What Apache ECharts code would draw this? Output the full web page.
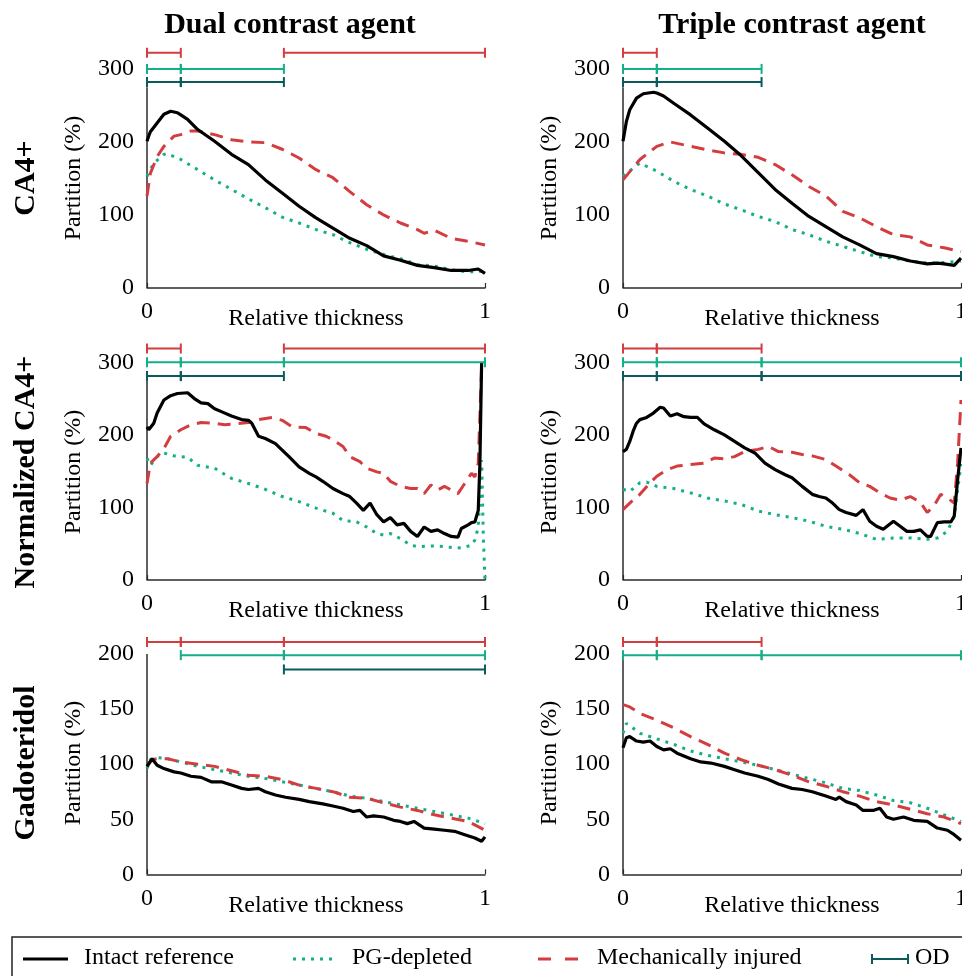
<!DOCTYPE html>
<html>
<head>
<meta charset="utf-8">
<script src="https://cdn.jsdelivr.net/npm/echarts@6.0.0/dist/echarts.min.js"></script>
<style>html,body{margin:0;padding:0;background:#fff;}#chart{width:962px;height:976px;}</style>
</head>
<body>
<div id="chart"></div>
<script>
// ---------- DATA ----------
const columnTitles = ['Dual contrast agent', 'Triple contrast agent'];
const rowTitles = ['CA4+', 'Normalized CA4+', 'Gadoteridol'];
const seriesNames = ['Intact reference', 'PG-depleted', 'Mechanically injured', 'OD'];
const xTickLabels = ['0', '1'];

// CA4+ , dual
const ca4DualIntact = [[0,201],[0.005,208],[0.01,214],[0.03,226],[0.05,238],[0.07,242],[0.09,240],[0.1,237],[0.12,231],[0.15,217],[0.2,201],[0.25,183],[0.3,169],[0.35,148],[0.4,130],[0.45,112],[0.5,96],[0.55,82],[0.6,68],[0.65,58],[0.7,44],[0.75,38],[0.8,31],[0.85,28],[0.9,24],[0.95,24],[0.98,26],[1,20]];
const ca4DualPG = [[0,153],[0.02,171],[0.05,183],[0.06,184],[0.1,176],[0.15,162],[0.2,148],[0.25,135],[0.3,122],[0.35,110],[0.4,97],[0.45,89],[0.5,80],[0.55,73],[0.6,62],[0.65,53],[0.7,46],[0.75,40],[0.8,32],[0.85,30],[0.9,25],[0.95,22],[1,23]];
const ca4DualMI = [[0,126],[0.01,157],[0.03,180],[0.05,194],[0.08,208],[0.1,210],[0.13,215],[0.15,215],[0.2,210],[0.25,203],[0.3,200],[0.35,199],[0.4,190],[0.45,178],[0.5,162],[0.55,151],[0.6,132],[0.65,114],[0.7,100],[0.75,89],[0.8,80],[0.82,75],[0.85,79],[0.9,68],[0.95,64],[1,59]];
// CA4+ , triple
const ca4TripleIntact = [[0,201],[0.01,228],[0.02,244],[0.04,260],[0.06,266],[0.09,268],[0.1,267],[0.12,263],[0.15,253],[0.2,237],[0.25,219],[0.3,201],[0.35,181],[0.4,158],[0.45,135],[0.5,116],[0.55,98],[0.6,84],[0.65,70],[0.7,59],[0.75,47],[0.8,43],[0.85,37],[0.9,33],[0.93,34],[0.95,33],[0.98,31],[1,41]];
const ca4TriplePG = [[0,153],[0.03,164],[0.05,171],[0.1,160],[0.15,146],[0.2,135],[0.25,126],[0.3,115],[0.35,107],[0.4,98],[0.45,91],[0.5,80],[0.55,73],[0.6,64],[0.65,57],[0.7,50],[0.75,43],[0.8,41],[0.85,37],[0.9,34],[0.95,35],[1,37]];
const ca4TripleMI = [[0,148],[0.05,176],[0.1,194],[0.14,200],[0.2,194],[0.25,189],[0.3,185],[0.35,183],[0.4,179],[0.45,169],[0.5,155],[0.55,139],[0.6,126],[0.65,105],[0.7,96],[0.75,84],[0.8,73],[0.85,70],[0.9,59],[0.95,55],[1,50]];
// Normalized CA4+ , dual
const normDualIntact = [[0,211],[0.005,207],[0.01,209],[0.02,216],[0.03,230],[0.05,248],[0.07,254],[0.09,257],[0.12,258],[0.14,250],[0.16,244],[0.18,243],[0.2,236],[0.22,232],[0.25,226],[0.28,221],[0.3,220],[0.31,216],[0.33,198],[0.35,195],[0.38,188],[0.4,179],[0.42,170],[0.45,156],[0.48,147],[0.5,142],[0.52,136],[0.55,126],[0.58,119],[0.6,115],[0.62,106],[0.64,96],[0.66,106],[0.68,90],[0.7,80],[0.72,86],[0.74,76],[0.76,78],[0.78,67],[0.8,60],[0.82,73],[0.84,67],[0.86,69],[0.88,64],[0.9,60],[0.92,59],[0.93,71],[0.95,76],[0.96,79],[0.97,80],[0.98,96],[0.985,161],[0.99,300]];
const normDualPG = [[0,168],[0.01,158],[0.03,170],[0.05,175],[0.08,171],[0.12,169],[0.15,158],[0.2,154],[0.25,140],[0.3,133],[0.35,125],[0.4,115],[0.45,108],[0.5,99],[0.55,92],[0.58,82],[0.62,80],[0.65,73],[0.68,64],[0.7,62],[0.72,64],[0.75,57],[0.78,48],[0.8,46],[0.85,47],[0.9,45],[0.93,44],[0.96,48],[0.97,55],[0.98,73],[0.985,115],[0.99,165],[0.995,60],[1,0]];
const normDualMI = [[0,133],[0.01,161],[0.03,170],[0.05,181],[0.07,198],[0.1,207],[0.13,214],[0.16,217],[0.2,216],[0.23,214],[0.26,215],[0.3,217],[0.33,221],[0.37,224],[0.4,220],[0.43,211],[0.47,210],[0.5,202],[0.53,198],[0.55,193],[0.58,184],[0.6,170],[0.63,163],[0.65,154],[0.68,149],[0.7,147],[0.72,136],[0.75,129],[0.78,126],[0.8,126],[0.82,119],[0.84,131],[0.86,124],[0.88,129],[0.9,124],[0.92,119],[0.94,133],[0.96,147],[0.97,142],[0.98,161],[0.99,294]];
// Normalized CA4+ , triple
const normTripleIntact = [[0,177],[0.01,180],[0.02,191],[0.03,205],[0.04,216],[0.05,221],[0.07,224],[0.09,230],[0.11,238],[0.12,237],[0.14,226],[0.16,229],[0.18,225],[0.2,224],[0.22,224],[0.24,215],[0.27,207],[0.3,200],[0.33,191],[0.36,182],[0.39,175],[0.42,161],[0.45,152],[0.48,145],[0.5,141],[0.53,129],[0.56,118],[0.58,115],[0.6,113],[0.62,106],[0.64,97],[0.66,93],[0.69,89],[0.71,97],[0.73,81],[0.75,74],[0.77,70],[0.8,81],[0.82,74],[0.84,67],[0.86,67],[0.88,69],[0.9,60],[0.91,60],[0.93,79],[0.95,80],[0.97,80],[0.98,88],[0.99,138],[1,182]];
const normTriplePG = [[0,125],[0.02,122],[0.05,134],[0.07,135],[0.1,129],[0.15,126],[0.2,120],[0.25,113],[0.3,109],[0.35,104],[0.4,95],[0.45,90],[0.5,86],[0.55,81],[0.6,74],[0.65,70],[0.7,64],[0.75,56],[0.8,58],[0.85,58],[0.9,56],[0.93,58],[0.96,67],[0.98,88],[1,160]];
const normTripleMI = [[0,97],[0.02,106],[0.05,118],[0.08,134],[0.1,143],[0.13,152],[0.16,157],[0.2,159],[0.24,161],[0.27,168],[0.3,167],[0.33,170],[0.36,177],[0.4,180],[0.43,184],[0.46,177],[0.5,176],[0.53,173],[0.56,171],[0.6,166],[0.63,157],[0.67,145],[0.7,134],[0.73,129],[0.76,120],[0.79,113],[0.82,110],[0.85,115],[0.88,107],[0.9,93],[0.92,102],[0.94,118],[0.96,113],[0.98,106],[0.99,161],[1,248]];
// Gadoteridol , dual
const gadoDualIntact = [[0,98],[0.015,105],[0.02,104],[0.03,99],[0.05,96],[0.08,93],[0.1,92],[0.13,89],[0.16,88],[0.19,84],[0.22,84],[0.25,81],[0.28,78],[0.3,77],[0.33,78],[0.35,75],[0.38,72],[0.41,70],[0.45,68],[0.48,66],[0.52,64],[0.55,62],[0.58,60],[0.61,57],[0.63,58],[0.65,52],[0.67,53],[0.7,52],[0.73,49],[0.75,48],[0.77,46],[0.79,48],[0.82,42],[0.85,41],[0.88,40],[0.91,39],[0.94,36],[0.97,33],[0.99,30],[1,34]];
const gadoDualPG = [[0,96],[0.01,104],[0.03,106],[0.06,105],[0.1,102],[0.15,98],[0.2,95],[0.25,92],[0.3,89],[0.35,87],[0.4,84],[0.45,81],[0.5,78],[0.55,75],[0.6,71],[0.65,69],[0.7,66],[0.75,63],[0.8,60],[0.85,57],[0.9,54],[0.95,51],[1,46]];
const gadoDualMI = [[0,98],[0.015,104],[0.03,105],[0.06,105],[0.1,102],[0.15,100],[0.2,98],[0.25,94],[0.3,90],[0.35,89],[0.4,86],[0.45,81],[0.5,78],[0.55,75],[0.6,70],[0.65,69],[0.7,65],[0.75,61],[0.8,58],[0.85,54],[0.9,51],[0.95,48],[1,40]];
// Gadoteridol , triple
const gadoTripleIntact = [[0,115],[0.01,124],[0.02,125],[0.04,121],[0.06,120],[0.08,121],[0.1,116],[0.12,113],[0.14,114],[0.16,110],[0.2,105],[0.23,102],[0.26,101],[0.3,98],[0.33,95],[0.36,92],[0.4,89],[0.43,86],[0.46,82],[0.5,78],[0.53,77],[0.56,75],[0.6,71],[0.63,68],[0.64,70],[0.66,66],[0.69,63],[0.71,58],[0.74,58],[0.76,60],[0.78,52],[0.8,50],[0.83,52],[0.86,49],[0.9,48],[0.93,42],[0.96,40],[0.98,36],[1,31]];
const gadoTriplePG = [[0,128],[0.01,137],[0.02,135],[0.05,128],[0.1,123],[0.15,118],[0.2,112],[0.25,108],[0.3,105],[0.35,102],[0.4,99],[0.45,95],[0.5,91],[0.55,87],[0.6,83],[0.65,78],[0.7,76],[0.75,72],[0.8,67],[0.85,65],[0.9,60],[0.95,54],[1,48]];
const gadoTripleMI = [[0,154],[0.02,152],[0.05,146],[0.1,140],[0.15,133],[0.2,125],[0.25,118],[0.3,110],[0.35,104],[0.4,99],[0.45,95],[0.5,90],[0.55,84],[0.6,80],[0.65,75],[0.7,71],[0.75,66],[0.8,63],[0.85,59],[0.9,55],[0.95,52],[1,46]];

// Significance bars: [from, to, level]
const ca4DualRed = [[0,0.1,322],[0.405,1,322]];
const ca4DualGreen = [[0,0.1,300],[0.1,0.405,300]];
const ca4DualDark = [[0,0.1,282],[0.1,0.405,282]];
const ca4TripleRed = [[0,0.1,322]];
const ca4TripleGreen = [[0,0.1,300],[0.1,0.41,300]];
const ca4TripleDark = [[0,0.1,282],[0.1,0.41,282]];
const normDualRed = [[0,0.1,319],[0.405,1,319]];
const normDualGreen = [[0,0.1,300],[0.1,0.405,300],[0.405,1,300]];
const normDualDark = [[0,0.1,281],[0.1,0.405,281]];
const normTripleRed = [[0,0.1,319],[0.1,0.41,319]];
const normTripleGreen = [[0,0.1,300],[0.1,0.41,300],[0.41,1,300]];
const normTripleDark = [[0,0.1,281],[0.1,0.41,281],[0.41,1,281]];
const gadoDualRed = [[0,0.1,211],[0.1,0.405,211],[0.405,1,211]];
const gadoDualGreen = [[0.1,0.405,199],[0.405,1,199]];
const gadoDualDark = [[0.405,1,186]];
const gadoTripleRed = [[0,0.1,211],[0.1,0.41,211]];
const gadoTripleGreen = [[0,0.1,199],[0.1,0.41,199],[0.41,1,199]];
const gadoTripleDark = [];

// axis ranges per row: [max, tick interval, axis line top]
const rowYMax = [330, 330, 220];
const rowYInterval = [100, 100, 50];
const rowAxisTop = [275, 275, 200];

// ---------- STYLE / LAYOUT ----------
const FONT = '"Liberation Serif", "Times New Roman", serif';
const C_BLACK = '#000000', C_GREEN = '#14ae88', C_RED = '#d33d40', C_DARK = '#0b5a5c', C_AXIS = '#2b2b2b';
const colLeft = [147, 623];
const rowGrid = [{top:47, height:241}, {top:340.5, height:239.5}, {top:632, height:242.3}];
const plotW = 338;

const panels = [
  {r:0,c:0, intact:ca4DualIntact, pg:ca4DualPG, mi:ca4DualMI, red:ca4DualRed, green:ca4DualGreen, dark:ca4DualDark},
  {r:0,c:1, intact:ca4TripleIntact, pg:ca4TriplePG, mi:ca4TripleMI, red:ca4TripleRed, green:ca4TripleGreen, dark:ca4TripleDark},
  {r:1,c:0, intact:normDualIntact, pg:normDualPG, mi:normDualMI, red:normDualRed, green:normDualGreen, dark:normDualDark},
  {r:1,c:1, intact:normTripleIntact, pg:normTriplePG, mi:normTripleMI, red:normTripleRed, green:normTripleGreen, dark:normTripleDark},
  {r:2,c:0, intact:gadoDualIntact, pg:gadoDualPG, mi:gadoDualMI, red:gadoDualRed, green:gadoDualGreen, dark:gadoDualDark},
  {r:2,c:1, intact:gadoTripleIntact, pg:gadoTriplePG, mi:gadoTripleMI, red:gadoTripleRed, green:gadoTripleGreen, dark:gadoTripleDark}
];

const grid = [], xAxis = [], yAxis = [], series = [];

function barSeries(i, data, color) {
  return {
    type: 'custom', xAxisIndex: i, yAxisIndex: i, data: data, silent: true, clip: false, z: 5,
    encode: {x: [0, 1], y: 2},
    renderItem: function (params, api) {
      const a = api.coord([api.value(0), api.value(2)]);
      const b = api.coord([api.value(1), api.value(2)]);
      const h = 5;
      const st = {stroke: color, lineWidth: 2};
      return {type: 'group', children: [
        {type: 'line', shape: {x1: a[0], y1: a[1], x2: b[0], y2: b[1]}, style: st},
        {type: 'line', shape: {x1: a[0], y1: a[1] - h, x2: a[0], y2: a[1] + h}, style: st},
        {type: 'line', shape: {x1: b[0], y1: b[1] - h, x2: b[0], y2: b[1] + h}, style: st}
      ]};
    }
  };
}

panels.forEach(function (p, i) {
  const yMax = rowYMax[p.r], yInt = rowYInterval[p.r];
  grid.push({left: colLeft[p.c], top: rowGrid[p.r].top, width: plotW, height: rowGrid[p.r].height,
    containLabel: false, outerBoundsMode: 'none'});
  xAxis.push({
    gridIndex: i, type: 'value', min: 0, max: 1, interval: 1,
    axisLine: {show: true, lineStyle: {color: C_AXIS, width: 1.5}},
    axisTick: {show: true, inside: true, length: 5, lineStyle: {color: C_AXIS, width: 1.2}},
    splitLine: {show: false},
    axisLabel: {fontFamily: FONT, fontSize: 24, color: '#000', margin: 12,
      formatter: function (v) { return v === 0 ? xTickLabels[0] : (v === 1 ? xTickLabels[1] : ''); }},
    name: 'Relative thickness', nameLocation: 'middle', nameGap: 19, nameMoveOverlap: false,
    nameTextStyle: {fontFamily: FONT, fontSize: 24, color: '#000', verticalAlign: 'top'}
  });
  yAxis.push({
    gridIndex: i, type: 'value', min: 0, max: yMax, interval: yInt,
    axisLine: {show: false}, axisTick: {show: false}, splitLine: {show: false},
    axisLabel: {fontFamily: FONT, fontSize: 24, color: '#000', margin: 13,
      formatter: function (v) { return (v % yInt === 0 && v <= 300) ? String(v) : ''; }}
  });
  // y-axis line
  series.push({type: 'line', xAxisIndex: i, yAxisIndex: i, data: [[0, 0], [0, rowAxisTop[p.r]]],
    symbol: 'none', silent: true, lineStyle: {color: C_AXIS, width: 1.5}, z: 1});
  series.push({name: seriesNames[1], type: 'line', xAxisIndex: i, yAxisIndex: i, data: p.pg, symbol: 'none', silent: true,
    lineStyle: {color: C_GREEN, width: 3, type: [3, 6], cap: 'butt'}, z: 2});
  series.push({name: seriesNames[2], type: 'line', xAxisIndex: i, yAxisIndex: i, data: p.mi, symbol: 'none', silent: true,
    lineStyle: {color: C_RED, width: 3, type: [13, 8], cap: 'butt'}, z: 3});
  series.push({name: seriesNames[0], type: 'line', xAxisIndex: i, yAxisIndex: i, data: p.intact, symbol: 'none', silent: true,
    lineStyle: {color: C_BLACK, width: 3.2}, z: 4});
  series.push(barSeries(i, p.red, C_RED));
  series.push(barSeries(i, p.green, C_GREEN));
  series.push(barSeries(i, p.dark, C_DARK));
});

// ---------- TEXT / LEGEND GRAPHICS ----------
const graphic = [];
const titleX = [290, 792];
columnTitles.forEach(function (t, c) {
  graphic.push({type: 'text', x: titleX[c], y: 25, style: {text: t, font: 'bold 30px ' + FONT, fill: '#000', textAlign: 'center', textVerticalAlign: 'middle'}});
});
const rowCenterY = [178, 472, 763];
rowTitles.forEach(function (t, r) {
  graphic.push({type: 'text', x: 26, y: rowCenterY[r], rotation: Math.PI / 2,
    style: {text: t, font: 'bold 30px ' + FONT, fill: '#000', textAlign: 'center', textVerticalAlign: 'middle'}});
  [0, 1].forEach(function (c) {
    graphic.push({type: 'text', x: colLeft[c] - 73, y: rowCenterY[r], rotation: Math.PI / 2,
      style: {text: 'Partition (%)', font: '24px ' + FONT, fill: '#000', textAlign: 'center', textVerticalAlign: 'middle'}});
  });
});
// legend
const LY = 959;
graphic.push({type: 'rect', shape: {x: 12, y: 937, width: 1000, height: 80}, style: {fill: 'none', stroke: '#222', lineWidth: 1.5}});
graphic.push({type: 'line', shape: {x1: 23, y1: LY, x2: 68, y2: LY}, style: {stroke: C_BLACK, lineWidth: 3}});
graphic.push({type: 'text', x: 84, y: LY - 1, style: {text: seriesNames[0], font: '24px ' + FONT, fill: '#000', textAlign: 'left', textVerticalAlign: 'middle'}});
graphic.push({type: 'line', shape: {x1: 293, y1: LY, x2: 337, y2: LY}, style: {stroke: C_GREEN, lineWidth: 3, lineDash: [3, 6]}});
graphic.push({type: 'text', x: 352, y: LY - 1, style: {text: seriesNames[1], font: '24px ' + FONT, fill: '#000', textAlign: 'left', textVerticalAlign: 'middle'}});
graphic.push({type: 'line', shape: {x1: 538, y1: LY, x2: 578, y2: LY}, style: {stroke: C_RED, lineWidth: 3, lineDash: [13, 14]}});
graphic.push({type: 'text', x: 597, y: LY - 1, style: {text: seriesNames[2], font: '24px ' + FONT, fill: '#000', textAlign: 'left', textVerticalAlign: 'middle'}});
graphic.push({type: 'line', shape: {x1: 872, y1: LY, x2: 908, y2: LY}, style: {stroke: C_DARK, lineWidth: 2}});
graphic.push({type: 'line', shape: {x1: 872, y1: LY - 5, x2: 872, y2: LY + 5}, style: {stroke: C_DARK, lineWidth: 2}});
graphic.push({type: 'line', shape: {x1: 908, y1: LY - 5, x2: 908, y2: LY + 5}, style: {stroke: C_DARK, lineWidth: 2}});
graphic.push({type: 'text', x: 915, y: LY - 1, style: {text: seriesNames[3], font: '24px ' + FONT, fill: '#000', textAlign: 'left', textVerticalAlign: 'middle'}});

const chart = echarts.init(document.getElementById('chart'), null, {renderer: 'canvas'});
chart.setOption({
  animation: false,
  backgroundColor: '#ffffff',
  grid: grid, xAxis: xAxis, yAxis: yAxis, series: series, graphic: graphic
});
</script>
</body>
</html>
